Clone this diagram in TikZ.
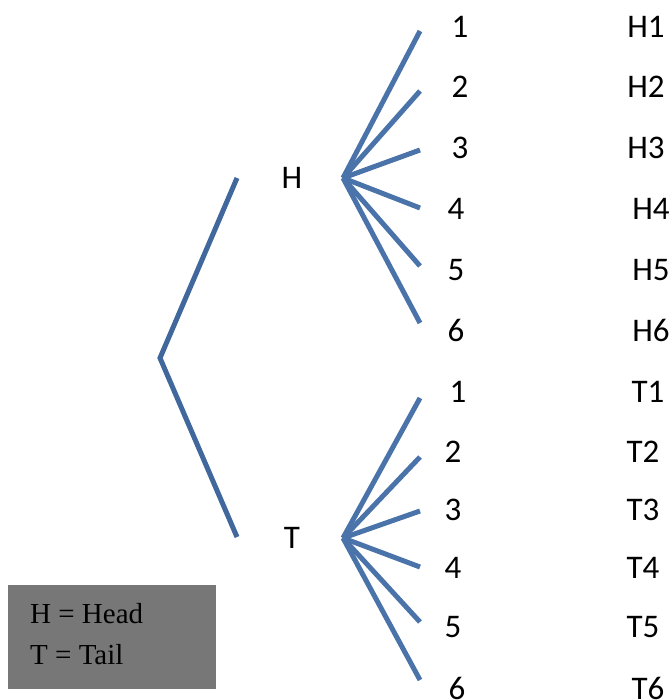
\documentclass[tikz,border=0pt]{standalone}
\usepackage{fontspec}
\setmainfont{Carlito}
\newfontfamily\keyfont{Liberation Serif}
\usepackage{tikz}
\definecolor{branch}{RGB}{74,115,170}
\definecolor{stem}{RGB}{64,104,156}
\definecolor{keygray}{RGB}{119,119,119}

\begin{document}
\begin{tikzpicture}[x=1pt,y=-1pt]
	\tikzstyle{lbl}=[inner sep=0pt,font=\fontsize{33}{36}\selectfont]
	\tikzstyle{leaf}=[draw=branch,line width=5pt]
	\useasboundingbox (0,0) rectangle (671,700);
	% first toss
	\coordinate (root) at (160,358);
	\coordinate (hend) at (237,178);
	\coordinate (tend) at (237,537);
	\draw[draw=stem,line width=5pt](hend) -- (root) -- (tend);
	\node[lbl](H) at (292,178) {H};
	\node[lbl](T) at (292,538) {T};
	% die after head
	\coordinate (hfan) at (343,178);
	\coordinate (h1) at (420,31);
	\coordinate (h2) at (420,91);
	\coordinate (h3) at (420,150);
	\coordinate (h4) at (420,208);
	\coordinate (h5) at (420,266);
	\coordinate (h6) at (420,323);
	\draw[leaf](hfan) -- (h1);
	\draw[leaf](hfan) -- (h2);
	\draw[leaf](hfan) -- (h3);
	\draw[leaf](hfan) -- (h4);
	\draw[leaf](hfan) -- (h5);
	\draw[leaf](hfan) -- (h6);
	% die after tail
	\coordinate (tfan) at (343,538);
	\coordinate (t1) at (420,398);
	\coordinate (t2) at (420,457);
	\coordinate (t3) at (420,511);
	\coordinate (t4) at (420,567);
	\coordinate (t5) at (420,622);
	\coordinate (t6) at (420,680);
	\draw[leaf](tfan) -- (t1);
	\draw[leaf](tfan) -- (t2);
	\draw[leaf](tfan) -- (t3);
	\draw[leaf](tfan) -- (t4);
	\draw[leaf](tfan) -- (t5);
	\draw[leaf](tfan) -- (t6);
	% faces
	\node[lbl](hn1) at (460,27) {1};
	\node[lbl](hn2) at (460,87) {2};
	\node[lbl](hn3) at (460,148) {3};
	\node[lbl](hn4) at (456,209) {4};
	\node[lbl](hn5) at (456,270) {5};
	\node[lbl](hn6) at (456,330) {6};
	\node[lbl](tn1) at (458,392) {1};
	\node[lbl](tn2) at (453,452) {2};
	\node[lbl](tn3) at (453,510) {3};
	\node[lbl](tn4) at (453,568) {4};
	\node[lbl](tn5) at (453,627) {5};
	\node[lbl](tn6) at (457,688) {6};
	% outcomes
	\node[lbl](o1) at (646,27) {H1};
	\node[lbl](o2) at (646,87) {H2};
	\node[lbl](o3) at (646,148) {H3};
	\node[lbl](o4) at (651,209) {H4};
	\node[lbl](o5) at (651,270) {H5};
	\node[lbl](o6) at (651,330) {H6};
	\node[lbl](o7) at (648,392) {T1};
	\node[lbl](o8) at (643,452) {T2};
	\node[lbl](o9) at (643,510) {T3};
	\node[lbl](o10) at (643,568) {T4};
	\node[lbl](o11) at (643,627) {T5};
	\node[lbl](o12) at (648,688) {T6};
	% key
	\node[fill=keygray,minimum width=208pt,minimum height=104pt,inner sep=0pt](key) at (112,637) {};
	\node[lbl,anchor=west,font=\keyfont\fontsize{29}{30}\selectfont](kh) at (30,614) {H = Head};
	\node[lbl,anchor=west,font=\keyfont\fontsize{29}{30}\selectfont](kt) at (30,655) {T = Tail};
\end{tikzpicture}
\end{document}
